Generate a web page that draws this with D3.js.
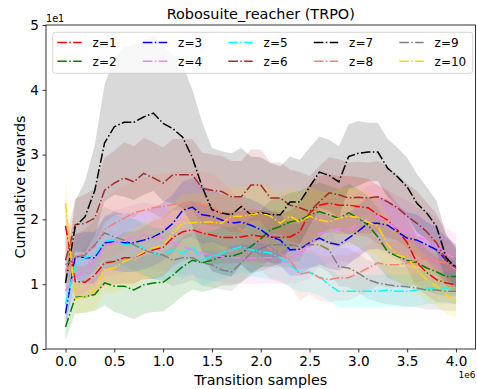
<!DOCTYPE html>
<html>
<head>
<meta charset="utf-8">
<script src="https://cdn.jsdelivr.net/npm/d3@7/dist/d3.min.js"></script>
<style>
  html, body { margin: 0; padding: 0; background: #fff; }
  svg { display: block; font-family: "DejaVu Sans", sans-serif; }
</style>
</head>
<body>
<div id="chart"></div>
<script>
// transition samples, in units of 1e6
const steps = [
  0.0, 0.1, 0.2, 0.3, 0.4, 0.5, 0.6, 0.7, 0.8, 0.9,
  1.0, 1.1, 1.2, 1.3, 1.4, 1.5, 1.6, 1.7, 1.8, 1.9,
  2.0, 2.1, 2.2, 2.3, 2.4, 2.5, 2.6, 2.7, 2.8, 2.9,
  3.0, 3.1, 3.2, 3.3, 3.4, 3.5, 3.6, 3.7, 3.8, 3.9,
  4.0
];

const zLabels = ["z=1", "z=2", "z=3", "z=4", "z=5", "z=6", "z=7", "z=8", "z=9", "z=10"];
const zColors = ["#ff0000", "#008000", "#0000ff", "#ee82ee", "#00ffff", "#a52a2a", "#000000", "#fa8072", "#808080", "#ffd700"];

const xTickValues = [0, 0.5, 1.0, 1.5, 2.0, 2.5, 3.0, 3.5, 4.0];
const xTickLabels = ["0.0", "0.5", "1.0", "1.5", "2.0", "2.5", "3.0", "3.5", "4.0"];
const yTickValues = [0, 10, 20, 30, 40, 50];
const yTickLabels = ["0", "1", "2", "3", "4", "5"];

// mean cumulative rewards per z
const z1Mean = [
  19, 10.4, 10.3, 11.4, 13.3, 13.5, 14.1, 14.1, 14.8, 15.3,
  15.7, 17.2, 18.1, 18.4, 17.9, 17.6, 17.2, 17.2, 17.3, 17.6,
  17.4, 17.3, 17.2, 17.3, 18.1, 21, 22.2, 22.5, 22.2, 22.2,
  22, 21.8, 20.7, 19.9, 18.4, 16.4, 13.3, 11.8, 10.7, 10.2,
  9.9
];
const z2Mean = [
  3.4, 8.0, 8.1, 8.4, 10.2, 9.7, 9.7, 9.1, 9.9, 10.2,
  10.3, 11.4, 12.7, 13.7, 13.3, 13.7, 14.3, 14.3, 14.8, 15.8,
  17, 18.4, 18.9, 19.6, 19.9, 20.7, 21.2, 20.7, 20.2, 21,
  20.2, 19.1, 17.3, 15, 14.3, 13.7, 13.3, 12.5, 11.9, 11.2,
  11.2
];
const z3Mean = [
  5.5, 14.3, 14.1, 14.1, 16.4, 16.6, 16.4, 16.4, 16.8, 17.3,
  18.1, 19.4, 21.4, 21.9, 20.7, 20.5, 19.9, 19.4, 19.6, 19.1,
  18.4, 17.3, 16.8, 15.3, 15.4, 16.4, 17.1, 16.4, 16.1, 17.1,
  18.2, 19.4, 19.4, 19.1, 18.1, 17.1, 16.8, 16.1, 15.3, 13.7,
  12.7
];
const z4Mean = [
  9, 11, 12.2, 13.7, 15.8, 16.4, 16.8, 17.3, 17.6, 17.3,
  17.1, 16.4, 15.8, 15.3, 14.8, 14.5, 14.3, 14.1, 14.1, 14,
  14.1, 14.1, 14.1, 14.1, 14.8, 15.8, 17.9, 18.1, 18.6, 18.4,
  19.1, 20.2, 20.5, 19.6, 18.6, 17.9, 17.3, 16.8, 15.8, 14.8,
  13.7
];
const z5Mean = [
  7, 13, 14.1, 14.5, 16.6, 16.8, 16.1, 16.1, 15.6, 14.8,
  14.5, 15.3, 14.8, 15.8, 13.7, 14.3, 14.8, 15.3, 15.8, 15.3,
  15, 14.8, 14.1, 13, 11.8, 11.8, 11.2, 9.9, 8.9, 8.9,
  8.9, 8.9, 8.9, 9.1, 8.9, 8.9, 9.1, 9.4, 9.4, 9.4,
  9.5
];
const z6Mean = [
  13.7, 19.2, 19.4, 20.2, 24.5, 25.6, 26.4, 25.8, 27.1, 26.4,
  25.6, 26.9, 26.9, 26.9, 24.8, 24.5, 24.3, 23.5, 23.5, 25.3,
  25.3, 23.3, 23.3, 22.2, 21.8, 21.2, 22.7, 24.1, 23.8, 23.3,
  23.4, 23.3, 23.5, 22.7, 21.8, 20.5, 19.4, 18.1, 16.4, 13.7,
  12.2
];
const z7Mean = [
  10.2, 18.9, 20.4, 24.5, 31.8, 34.3, 35, 35, 35.8, 36.4,
  34.8, 34, 32.7, 29.5, 25, 21.5, 21, 20.7, 22, 20.7,
  21.1, 20.7, 20.7, 22.7, 22.7, 25, 27.3, 26.8, 25.8, 29.7,
  30.2, 30.4, 30.4, 27.9, 26.6, 25, 22.5, 21, 18.9, 14.1,
  12.5
];
const z8Mean = [
  12, 14.3, 14.8, 15.8, 18.4, 19.4, 20.2, 21, 21.4, 21.8,
  22, 22.3, 22.5, 22.5, 22.3, 22, 21, 19.4, 18.4, 17.3,
  16.7, 15.3, 14.8, 13.7, 11.5, 11.9, 11, 10.7, 11, 11,
  11.7, 12.5, 13.3, 13, 13, 13.3, 13.7, 14.1, 13.5, 13.3,
  12.2
];
const z9Mean = [
  13, 14.1, 14.5, 16.1, 17.9, 17.3, 16.8, 16.1, 15.3, 14.8,
  14.5, 13.7, 14.1, 14.1, 13.3, 13, 12.2, 11.9, 13.3, 14.8,
  15.5, 16.1, 16.1, 16.1, 15.8, 16.1, 16.1, 15.3, 12.7, 12.5,
  11.7, 10.7, 10.2, 9.9, 9.7, 9.6, 9.4, 9.1, 9.1, 8.9,
  8.9
];
const z10Mean = [
  22.5, 7.8, 8.1, 9.1, 12.2, 12.5, 13.5, 14.1, 15, 15.6,
  16, 17.9, 19.4, 19.5, 19.6, 19.6, 19.4, 20.5, 20.5, 20.7,
  21, 20.5, 19.4, 20.5, 19.6, 20.5, 19.9, 19.6, 20.2, 20.5,
  20.3, 19.6, 18.9, 16.1, 14.5, 14.1, 12.2, 10.7, 9.7, 8.4,
  7.3
];

// standard deviation per z (shaded band = mean +/- std)
const z1Std = [
  3, 2.5, 2.5, 3, 3.5, 3.5, 4, 4, 4, 4.5,
  4.5, 4.5, 4.5, 4.5, 4.5, 4.5, 4, 4, 4, 4,
  4, 4, 4, 4, 4.5, 4.5, 4.5, 4.5, 4.5, 4.5,
  4.5, 4.5, 4.5, 4.5, 4, 4, 4, 3.5, 3.5, 3,
  3
];
const z2Std = [
  2, 2.5, 2.5, 2.5, 3.5, 4, 4.5, 4.5, 4.5, 4.5,
  4.5, 4.5, 4.5, 4.5, 4.5, 4.5, 4.5, 4.5, 4.5, 4.5,
  4.5, 4.5, 4.5, 4.5, 4.5, 4.5, 4.5, 4.5, 4.5, 4.5,
  4.5, 4.5, 4.5, 4, 4, 4, 3.5, 3.5, 3.5, 3,
  3
];
const z3Std = [
  2, 3.5, 4, 4, 4, 4.5, 4.5, 4.5, 4.5, 4.5,
  4.5, 4.5, 4.5, 4.5, 4.5, 4, 4, 4, 4, 4,
  4, 4, 4, 4, 4, 4, 4, 4, 4, 4,
  4, 4, 4, 4, 4, 4, 4, 3.5, 3.5, 3.5,
  3.5
];
const z4Std = [
  3, 3, 3.5, 4, 4.5, 5, 5, 5, 5, 5,
  5, 4.5, 4.5, 4, 4, 4, 4, 4, 4, 4,
  4, 4, 4, 4, 4.5, 5, 5, 5, 5, 5,
  5, 5, 5, 5, 5, 5, 4.5, 4.5, 4.5, 4,
  4
];
const z5Std = [
  2, 3, 3.5, 3.5, 4, 4, 4, 4, 4, 4,
  4, 4, 4, 4, 4, 4, 4, 4, 4, 4,
  4, 4, 3.5, 3.5, 3, 3, 3, 2.5, 2.5, 2.5,
  2.5, 2.5, 2.5, 2.5, 2.5, 2.5, 2.5, 2.5, 2.5, 2.5,
  2.5
];
const z6Std = [
  3, 4, 4.5, 4.5, 5, 5, 5.5, 5.5, 5.5, 5.5,
  5.5, 5.5, 5.5, 5.5, 5.5, 5.5, 5.5, 5.5, 5.5, 5.5,
  5.5, 5.5, 5.5, 5.5, 5.5, 5.5, 5.5, 5.5, 5.5, 5.5,
  5.5, 5.5, 5.5, 5.5, 5, 5, 5, 4.5, 4.5, 4,
  3.5
];
const z7Std = [
  2, 4, 5.5, 7, 9, 10.5, 11.5, 12, 12, 12,
  12, 11.5, 11, 10.5, 10, 9.5, 9.5, 9.5, 9, 9,
  8.5, 8, 7.5, 7, 6.5, 6, 5.5, 5.5, 5.5, 5,
  5, 4.5, 4.5, 4.5, 4.5, 4.5, 4.5, 4, 4, 3.5,
  3
];
const z8Std = [
  3, 3, 3.5, 4, 4.5, 5, 5, 5, 5, 5,
  5, 5, 5, 5, 5, 5, 5, 5, 4.5, 4.5,
  4.5, 4.5, 4.5, 4, 4, 3.5, 3.5, 3.5, 3.5, 3.5,
  3.5, 3.5, 3.5, 3.5, 3.5, 3.5, 3.5, 3.5, 3.5, 3.5,
  3.5
];
const z9Std = [
  3, 3.5, 4, 4, 4, 4, 4, 4, 4, 4,
  4, 4, 4, 3.5, 3.5, 3.5, 3, 3, 3, 3,
  3.5, 3.5, 3.5, 3.5, 3.5, 3.5, 3.5, 3.5, 3, 3,
  3, 3, 3, 3, 3, 3, 3, 3, 3, 3,
  3
];
const z10Std = [
  4, 2.5, 2.5, 3, 3.5, 4, 4, 4.5, 4.5, 4.5,
  4.5, 4.5, 4.5, 4.5, 4.5, 4.5, 4.5, 4.5, 4.5, 4.5,
  4.5, 4.5, 4.5, 4.5, 4.5, 4.5, 4.5, 4.5, 4.5, 4.5,
  4.5, 4.5, 4.5, 4.5, 4, 4, 3.5, 3.5, 3, 3,
  2.5
];

const means = [z1Mean, z2Mean, z3Mean, z4Mean, z5Mean, z6Mean, z7Mean, z8Mean, z9Mean, z10Mean];
const stds = [z1Std, z2Std, z3Std, z4Std, z5Std, z6Std, z7Std, z8Std, z9Std, z10Std];

const series = zLabels.map((label, k) => ({
    label,
    color: zColors[k],
    points: steps.map((t, i) => ({ t, m: means[k][i], s: stds[k][i] }))
}));

const width = 477, height = 389;
const margin = { left: 46, right: 1.5, top: 25, bottom: 40 };

const svg = d3.select("#chart").append("svg")
    .attr("width", width)
    .attr("height", height);

const xScale = d3.scaleLinear().domain([-0.2, 4.2]).range([margin.left, width - margin.right]);
const yScale = d3.scaleLinear().domain([0, 50]).range([height - margin.bottom, margin.top]);

svg.append("clipPath").attr("id", "plotClip")
    .append("rect")
    .attr("x", margin.left).attr("y", margin.top)
    .attr("width", width - margin.right - margin.left)
    .attr("height", height - margin.bottom - margin.top);

const plot = svg.append("g").attr("clip-path", "url(#plotClip)");

// bands first, then all lines on top (like matplotlib zorder)
const area = d3.area()
    .x(d => xScale(d.t))
    .y0(d => yScale(d.m - d.s))
    .y1(d => yScale(d.m + d.s));

plot.selectAll("path.band")
    .data(series)
    .enter()
    .append("path")
    .attr("class", "band")
    .attr("d", d => area(d.points))
    .attr("fill", d => d.color)
    .attr("fill-opacity", 0.15)
    .attr("stroke", "none");

const line = d3.line()
    .x(d => xScale(d.t))
    .y(d => yScale(d.m));

const dash = "9.6,2.4,1.5,2.4";

plot.selectAll("path.mean")
    .data(series)
    .enter()
    .append("path")
    .attr("class", "mean")
    .attr("d", d => line(d.points))
    .attr("fill", "none")
    .attr("stroke", d => d.color)
    .attr("stroke-width", 1.5)
    .attr("stroke-dasharray", dash);

// axes
const xAxis = d3.axisBottom(xScale)
    .tickValues(xTickValues)
    .tickFormat((d, i) => xTickLabels[i])
    .tickSize(3.5)
    .tickPadding(3.5);

const yAxis = d3.axisLeft(yScale)
    .tickValues(yTickValues)
    .tickFormat((d, i) => yTickLabels[i])
    .tickSize(3.5)
    .tickPadding(3.5);

const gx = svg.append("g")
    .attr("transform", `translate(0,${height - margin.bottom})`)
    .call(xAxis);
const gy = svg.append("g")
    .attr("transform", `translate(${margin.left},0)`)
    .call(yAxis);

[gx, gy].forEach(g => {
    g.select(".domain").remove();
    g.selectAll(".tick line").attr("stroke", "#000").attr("stroke-width", 0.8);
    g.selectAll(".tick text")
        .attr("fill", "#000")
        .style("font-family", "DejaVu Sans")
        .style("font-size", "13.6px");
});

// frame
svg.append("rect")
    .attr("x", margin.left).attr("y", margin.top)
    .attr("width", width - margin.right - margin.left)
    .attr("height", height - margin.bottom - margin.top)
    .attr("fill", "none")
    .attr("stroke", "#000")
    .attr("stroke-width", 0.8);

// offsets
svg.append("text")
    .attr("x", margin.left).attr("y", 22)
    .style("font-size", "9.7px")
    .text("1e1");
svg.append("text")
    .attr("x", width - margin.right).attr("y", 378)
    .attr("text-anchor", "end")
    .style("font-size", "9px")
    .text("1e6");

// labels
svg.append("text")
    .attr("x", (margin.left + width - margin.right) / 2).attr("y", 19)
    .attr("text-anchor", "middle")
    .style("font-size", "14.4px")
    .text("Robosuite_reacher (TRPO)");

svg.append("text")
    .attr("x", (margin.left + width - margin.right) / 2).attr("y", 385)
    .attr("text-anchor", "middle")
    .style("font-size", "14.3px")
    .text("Transition samples");

svg.append("text")
    .attr("transform", `translate(25,${(margin.top + height - margin.bottom) / 2}) rotate(-90)`)
    .attr("text-anchor", "middle")
    .style("font-size", "14.3px")
    .text("Cumulative rewards");

// legend: 5 columns, filled column by column
const legend = svg.append("g");
legend.append("rect")
    .attr("x", 52.7).attr("y", 32.3)
    .attr("width", 420).attr("height", 41)
    .attr("rx", 2.5)
    .attr("fill", "#fff").attr("fill-opacity", 0.8)
    .attr("stroke", "#cccccc").attr("stroke-width", 0.8);

const items = legend.selectAll("g.item")
    .data(series)
    .enter()
    .append("g")
    .attr("class", "item")
    .attr("transform", (d, i) => `translate(${57.3 + Math.floor(i / 2) * 85.5},${i % 2 === 0 ? 42.5 : 61.2})`);

items.append("line")
    .attr("x1", 0).attr("x2", 24.4)
    .attr("y1", 0).attr("y2", 0)
    .attr("stroke", d => d.color)
    .attr("stroke-width", 1.5)
    .attr("stroke-dasharray", dash);

items.append("text")
    .attr("x", 35.3).attr("y", 4.4)
    .style("font-size", "12px")
    .text(d => d.label);
</script>
</body>
</html>
